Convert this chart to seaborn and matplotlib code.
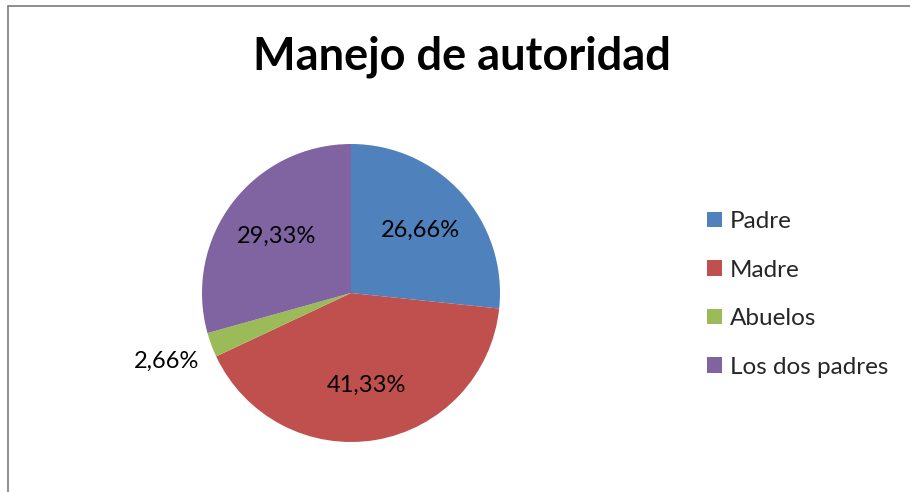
import matplotlib
matplotlib.use("Agg")
import matplotlib.pyplot as plt
import numpy as np
import seaborn as sns
from matplotlib.lines import Line2D
from matplotlib.patches import Patch


categories = ["Padre", "Madre", "Abuelos", "Los dos padres"]
percentages = [26.66, 41.33, 2.66, 29.33]
colors = ["#4F81BD", "#C0504D", "#9BBB59", "#8064A2"]
title = "Manejo de autoridad"

sns.set_theme(style="white")
plt.rcParams["font.family"] = ["Lato", "DejaVu Sans"]
palette = sns.color_palette(colors)

fig = plt.figure(figsize=(9.1, 4.92), dpi=100)
fig.patch.set_facecolor("white")

# pie area: centre ~ (351, 293) px, radius ~ 149 px
cx, cy, r = 351, 293, 149
ax = fig.add_axes([(cx - r) / 910, (492 - cy - r) / 492, 2 * r / 910, 2 * r / 492])
wedges, _ = ax.pie(
    percentages,
    colors=palette,
    startangle=90,
    counterclock=False,
    radius=1,
    wedgeprops={"linewidth": 0},
)
ax.set_xlim(-1, 1)
ax.set_ylim(-1, 1)
ax.set_aspect("equal")
ax.axis("off")

# percentage labels, decimal comma
for w, v in zip(wedges, percentages):
    mid = np.deg2rad((w.theta1 + w.theta2) / 2)
    dist = 1.32 if v < 5 else 0.63
    label = f"{v:.2f}".replace(".", ",") + "%"
    ax.text(dist * np.cos(mid), dist * np.sin(mid), label,
            ha="center", va="center", fontsize=17, color="black")

fig.text(462 / 910, 1 - 57 / 492, title, ha="center", va="center",
         fontsize=32.5, fontweight="bold", color="black")

handles = [Patch(facecolor=c, edgecolor="none") for c in palette]
fig.legend(
    handles, categories,
    loc="center left",
    bbox_to_anchor=(707 / 910, 1 - 294.5 / 492),
    frameon=False,
    fontsize=17.5,
    labelspacing=1.13,
    handlelength=0.6,
    handleheight=0.6,
    handletextpad=0.35,
    borderpad=0,
    borderaxespad=0,
)

# outer chart border (only top and left visible in frame)
fig.add_artist(Line2D([8 / 910, 8 / 910], [0, 1 - 5.5 / 492],
                      transform=fig.transFigure, color="#868686", linewidth=1.3))
fig.add_artist(Line2D([8 / 910, 1], [1 - 5.5 / 492, 1 - 5.5 / 492],
                      transform=fig.transFigure, color="#868686", linewidth=1.3))

fig.savefig("out.png", dpi=100, facecolor="white")
